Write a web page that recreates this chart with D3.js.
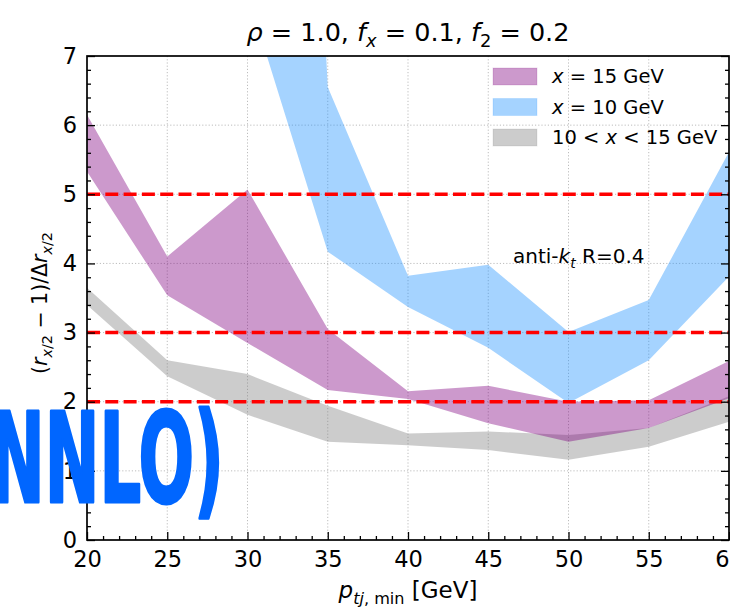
<!DOCTYPE html>
<html>
<head>
<meta charset="utf-8">
<script src="https://cdn.jsdelivr.net/npm/d3@7"></script>
<style>
  body { margin: 0; background: #fff; }
  svg { display: block; font-family: "DejaVu Sans", sans-serif; }
</style>
</head>
<body>
<div id="chart"></div>
<script>
// values
const ptMin = [20, 25, 30, 35, 40, 45, 50, 55, 60];
// x = 15 GeV band
const x15Upper = [6.15, 4.10, 5.07, 3.05, 2.15, 2.23, 2.00, 2.02, 2.59];
const x15Lower = [5.33, 3.54, 2.85, 2.17, 2.04, 1.69, 1.42, 1.62, 2.05];
// x = 10 GeV band (starts at 30, runs off the top)
const x10Upper = [null, null, 30, 6.55, 3.82, 3.98, 3.01, 3.47, 5.61];
const x10Lower = [null, null, 7.9, 4.17, 3.37, 2.78, 1.98, 2.60, 3.81];
// 10 < x < 15 GeV band
const midUpper = [3.65, 2.60, 2.40, 1.94, 1.54, 1.57, 1.52, 1.62, 2.08];
const midLower = [3.40, 2.37, 1.81, 1.42, 1.37, 1.30, 1.16, 1.35, 1.71];
const refLines = [5, 3, 2];
const xTicks = [20, 25, 30, 35, 40, 45, 50, 55, 60];
const yTicks = [0, 1, 2, 3, 4, 5, 6, 7];

const width = 730, height = 609;
const margin = { left: 87, right: 1, top: 56, bottom: 69 };

const svg = d3.select("#chart").append("svg")
  .attr("width", width)
  .attr("height", height);

const xScale = d3.scaleLinear().domain([20, 60]).range([margin.left, width - margin.right]);
const yScale = d3.scaleLinear().domain([0, 7]).range([height - margin.bottom, margin.top]);

const [x0, x1] = xScale.range();
const [yb, yt] = yScale.range();

svg.append("clipPath").attr("id", "plotClip")
  .append("rect")
  .attr("x", x0).attr("y", yt)
  .attr("width", x1 - x0).attr("height", yb - yt);

// grid
const grid = svg.append("g")
  .attr("stroke", "#bdbdbd")
  .attr("stroke-width", 1)
  .attr("stroke-dasharray", "1.2,2");
grid.selectAll("line.gx")
  .data(xTicks.slice(1, -1))
  .join("line")
  .attr("x1", d => xScale(d)).attr("x2", d => xScale(d))
  .attr("y1", yt).attr("y2", yb);
grid.selectAll("line.gy")
  .data(yTicks.slice(1, -1))
  .join("line")
  .attr("x1", x0).attr("x2", x1)
  .attr("y1", d => yScale(d)).attr("y2", d => yScale(d));

// bands
const bands = [
  { key: "mid", upper: midUpper, lower: midLower, color: "#808080" },
  { key: "x15", upper: x15Upper, lower: x15Lower, color: "#800080" },
  { key: "x10", upper: x10Upper, lower: x10Lower, color: "#1e90ff" }
];

const area = d3.area()
  .defined(d => d.hi != null && d.lo != null)
  .x(d => xScale(d.pt))
  .y0(d => yScale(d.lo))
  .y1(d => yScale(d.hi));

const bandG = svg.append("g").attr("clip-path", "url(#plotClip)");
bands.forEach(b => {
  const rows = ptMin.map((pt, i) => ({ pt, hi: b.upper[i], lo: b.lower[i] }));
  bandG.append("path")
    .datum(rows)
    .attr("d", area)
    .attr("fill", b.color)
    .attr("fill-opacity", 0.4);
});

// red reference lines
svg.append("g").selectAll("line")
  .data(refLines)
  .join("line")
  .attr("x1", x0).attr("x2", x1)
  .attr("y1", d => yScale(d)).attr("y2", d => yScale(d))
  .attr("stroke", "#ff0000")
  .attr("stroke-width", 3.5)
  .attr("stroke-dasharray", "13,5.3");

// axes (ticks point inward)
const tickFont = g => g.attr("font-family", "DejaVu Sans, sans-serif")
  .attr("font-size", 22.5);
const minorY = d3.range(0, 7.001, 0.2).filter(v => Math.abs(v - Math.round(v)) > 1e-6);
const minorX = d3.range(20, 60.001, 1).filter(v => v % 5 !== 0);

svg.append("g")
  .attr("transform", `translate(${x0},0)`)
  .call(d3.axisLeft(yScale).tickValues(yTicks).tickSize(-8).tickPadding(10).tickFormat(d3.format("d")))
  .call(tickFont);
svg.append("g")
  .attr("transform", `translate(${x0},0)`)
  .call(d3.axisLeft(yScale).tickValues(minorY).tickSize(-4).tickFormat(""));
svg.append("g")
  .attr("transform", `translate(${x1},0)`)
  .call(d3.axisRight(yScale).tickValues(yTicks).tickSize(-8).tickFormat(""));
svg.append("g")
  .attr("transform", `translate(${x1},0)`)
  .call(d3.axisRight(yScale).tickValues(minorY).tickSize(-4).tickFormat(""));

svg.append("g")
  .attr("transform", `translate(0,${yb})`)
  .call(d3.axisBottom(xScale).tickValues(xTicks).tickSize(-8).tickPadding(11).tickFormat(d3.format("d")))
  .call(tickFont);
svg.append("g")
  .attr("transform", `translate(0,${yb})`)
  .call(d3.axisBottom(xScale).tickValues(minorX).tickSize(-4).tickFormat(""));

svg.selectAll(".domain").remove();
svg.selectAll(".tick line").attr("stroke", "#000").attr("stroke-width", 1.3);
svg.selectAll(".tick text").attr("fill", "#000");

// frame
svg.append("rect")
  .attr("x", x0).attr("y", yt)
  .attr("width", x1 - x0).attr("height", yb - yt)
  .attr("fill", "none")
  .attr("stroke", "#000")
  .attr("stroke-width", 1.7);

// helper for math-like text runs
function addRuns(text, runs, fs) {
  let shifted = 0;
  runs.forEach(r => {
    const want = r.sub ? fs * 0.24 : 0;
    text.append("tspan")
      .attr("font-size", r.sub ? fs * 0.7 : fs)
      .attr("font-style", r.i ? "italic" : "normal")
      .attr("dy", want - shifted)
      .text(r.t);
    shifted = want;
  });
  return text;
}

// title
addRuns(svg.append("text")
  .attr("x", (x0 + x1) / 2).attr("y", 41)
  .attr("text-anchor", "middle"),
  [
    { t: "ρ", i: true }, { t: " = 1.0, " },
    { t: "f", i: true }, { t: "x", i: true, sub: true }, { t: " = 0.1, " },
    { t: "f", i: true }, { t: "2", sub: true }, { t: " = 0.2" }
  ], 25.5);

// x label
addRuns(svg.append("text")
  .attr("x", (x0 + x1) / 2).attr("y", 598)
  .attr("text-anchor", "middle"),
  [
    { t: "p", i: true }, { t: "tj", i: true, sub: true }, { t: ", min", sub: true },
    { t: " [GeV]" }
  ], 23);

// y label
addRuns(svg.append("text")
  .attr("transform", `translate(47,${(yt + yb) / 2 + 5}) rotate(-90)`)
  .attr("text-anchor", "middle"),
  [
    { t: "(" }, { t: "r", i: true }, { t: "x", i: true, sub: true }, { t: "/2", sub: true },
    { t: " − 1)/Δ" }, { t: "r", i: true }, { t: "x", i: true, sub: true }, { t: "/2", sub: true }
  ], 20.5);

// legend
const legendItems = [
  { color: "#800080", runs: [{ t: "x", i: true }, { t: " = 15 GeV" }] },
  { color: "#1e90ff", runs: [{ t: "x", i: true }, { t: " = 10 GeV" }] },
  { color: "#808080", runs: [{ t: "10 < " }, { t: "x", i: true }, { t: " < 15 GeV" }] }
];
const legend = svg.append("g").attr("transform", "translate(493,68)");
legendItems.forEach((item, i) => {
  legend.append("rect")
    .attr("x", 0).attr("y", i * 30.5)
    .attr("width", 44).attr("height", 17)
    .attr("fill", item.color).attr("fill-opacity", 0.4)
    .attr("stroke", item.color).attr("stroke-opacity", 0.15);
  addRuns(legend.append("text").attr("x", 59).attr("y", i * 30.5 + 15), item.runs, 19.5);
});

// annotation
addRuns(svg.append("text").attr("x", 513).attr("y", 263),
  [{ t: "anti-" }, { t: "k", i: true }, { t: "t", i: true, sub: true }, { t: " R=0.4" }], 20);

// overlay lettering
svg.append("text")
  .attr("x", -10).attr("y", 502)
  .attr("font-family", "DejaVu Sans Condensed, DejaVu Sans, sans-serif")
  .attr("font-weight", "bold")
  .attr("font-size", 124)
  .attr("fill", "#0066ff")
  .attr("stroke", "#0066ff")
  .attr("stroke-width", 3)
  .attr("stroke-linejoin", "round")
  .attr("textLength", 234)
  .attr("lengthAdjust", "spacingAndGlyphs")
  .text("NNLO)");
</script>
</body>
</html>
